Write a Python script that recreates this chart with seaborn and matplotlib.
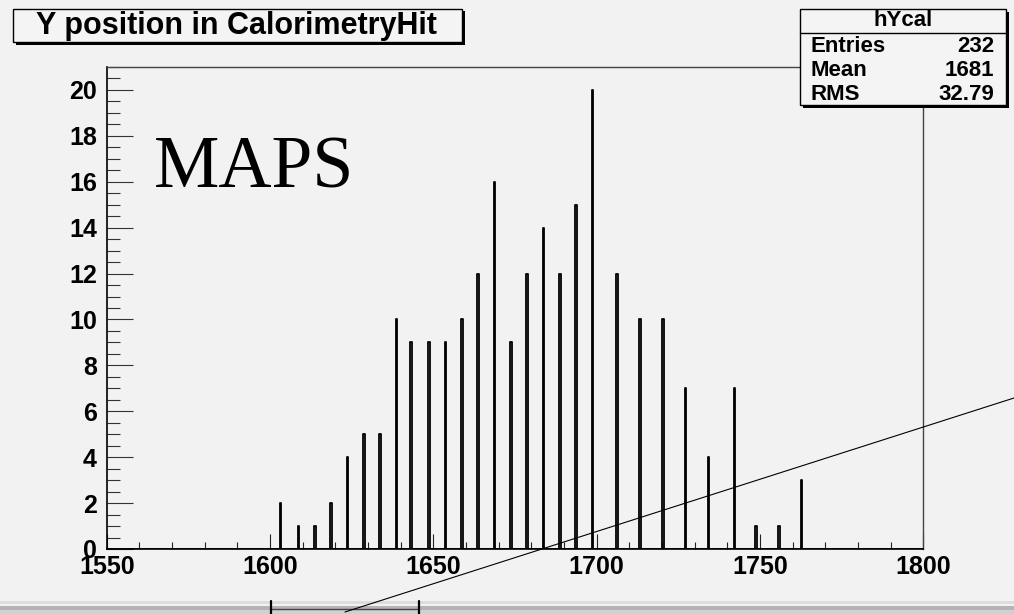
import numpy as np
import pandas as pd
import matplotlib
matplotlib.use("Agg")
import matplotlib.pyplot as plt
import seaborn as sns
from matplotlib.patches import Rectangle
from matplotlib.lines import Line2D
from matplotlib.ticker import MultipleLocator

# Y position of calorimetry hits (bin centres) and entries in each bin
y_position = [1603.4, 1608.6, 1613.8, 1618.7, 1623.7, 1628.7, 1633.5, 1638.5,
              1643.4, 1648.7, 1653.8, 1658.7, 1663.6, 1668.7, 1673.6, 1678.6,
              1683.7, 1688.9, 1693.9, 1698.8, 1706.4, 1713.1, 1720.2, 1727.1,
              1734.2, 1742.0, 1748.7, 1755.8, 1762.5]
entries = [2, 1, 1, 2, 4, 5, 5, 10, 9, 9, 9, 10, 12, 16, 9, 12, 14, 12, 15, 20,
           12, 10, 10, 7, 4, 7, 1, 1, 3]

title_text = "Y position in CalorimetryHit"
hist_name = "hYcal"
stat_names = ["Entries", "Mean", "RMS"]
stat_values = ["232", "1681", "32.79"]
label_text = "MAPS"

x_range = (1550, 1800)
y_max = 21
bin_width = 0.5

W, H = 1014, 614
BG = "#f2f2f2"

sns.set_theme(style="ticks")
plt.rcParams["font.family"] = ["Liberation Sans", "DejaVu Sans"]
plt.rcParams["text.color"] = "black"
plt.rcParams["xtick.labelcolor"] = "black"
plt.rcParams["ytick.labelcolor"] = "black"

fig = plt.figure(figsize=(W / 100, H / 100), dpi=100, facecolor=BG)


def fx(x):
    return x / W


def fy(y):
    return 1 - y / H


ax = fig.add_axes([fx(106.7), fy(549), fx(923.3) - fx(106.7), fy(67) - fy(549)])
ax.set_facecolor(BG)

hits = pd.DataFrame({"y": y_position, "n": entries})
sns.histplot(data=hits, x="y", weights="n", binwidth=bin_width, binrange=x_range,
             element="step", fill=False, color="black", linewidth=1.3, ax=ax)

ax.set_xlim(*x_range)
ax.set_ylim(0, y_max)
ax.set_xlabel("")
ax.set_ylabel("")

ax.xaxis.set_major_locator(MultipleLocator(50))
ax.xaxis.set_minor_locator(MultipleLocator(10))
ax.yaxis.set_major_locator(MultipleLocator(2))
ax.yaxis.set_minor_locator(MultipleLocator(0.5))

ax.tick_params(axis="x", which="major", direction="in", length=10.8, width=0.8,
               color="#222222", pad=4, labelsize=18, top=False, labelcolor="black")
ax.tick_params(axis="x", which="minor", direction="in", length=5, width=0.8,
               color="#222222", top=False)
ax.tick_params(axis="y", which="major", direction="in", length=18.7, width=0.8,
               color="#333333", pad=7, labelsize=18, right=False, labelcolor="black")
ax.tick_params(axis="y", which="minor", direction="in", length=9.4, width=0.8,
               color="#333333", right=False)
for lab in ax.get_xticklabels() + ax.get_yticklabels():
    lab.set_fontweight("bold")

for side in ("left", "bottom"):
    ax.spines[side].set_color("black")
    ax.spines[side].set_linewidth(1.2)
for side in ("top", "right"):
    ax.spines[side].set_visible(True)
    ax.spines[side].set_color("#444444")
    ax.spines[side].set_linewidth(1.0)


def pave(x0, y0, x1, y1):
    # box with a drop shadow, given in pixel coordinates from top-left
    fig.add_artist(Rectangle((fx(x0 + 2.5), fy(y1 + 2.5)), fx(x1 - x0), fy(y0) - fy(y1),
                             transform=fig.transFigure, facecolor="black",
                             edgecolor="none", zorder=4))
    fig.add_artist(Rectangle((fx(x0), fy(y1)), fx(x1 - x0), fy(y0) - fy(y1),
                             transform=fig.transFigure, facecolor="#f4f4f4",
                             edgecolor="black", linewidth=1.0, zorder=5))


# title pave
pave(13, 9, 462, 42)
fig.text(fx(236), fy(26), title_text, ha="center", va="center", fontsize=22,
         fontweight="bold", zorder=6)

# statistics pave
pave(800, 9, 1006, 105)
fig.add_artist(Line2D([fx(800), fx(1006)], [fy(33), fy(33)], transform=fig.transFigure,
                      color="black", linewidth=1.0, zorder=6))
fig.text(fx(903), fy(21), hist_name, ha="center", va="center", fontsize=16,
         fontweight="bold", zorder=6)
for i, (name, val) in enumerate(zip(stat_names, stat_values)):
    yy = 47 + 23.5 * i
    fig.text(fx(810), fy(yy), name, ha="left", va="center", fontsize=16,
             fontweight="bold", zorder=6)
    fig.text(fx(994), fy(yy), val, ha="right", va="center", fontsize=16,
             fontweight="bold", zorder=6)

# detector label
fig.text(fx(154), fy(188), label_text, ha="left", va="baseline", fontsize=53,
         family=["Liberation Serif", "DejaVu Serif"], color="black", zorder=6)

# strip along the bottom edge
fig.add_artist(Line2D([0, 1], [fy(602), fy(602)], transform=fig.transFigure,
                      color="#dcdcdc", linewidth=2.0, zorder=2))
fig.add_artist(Rectangle((0, fy(610)), 1, fy(606) - fy(610), transform=fig.transFigure,
                         facecolor="#b4b4b4", edgecolor="none", zorder=2))
fig.add_artist(Rectangle((0, 0), 1, fy(610), transform=fig.transFigure,
                         facecolor="#d0d0d0", edgecolor="none", zorder=2))
fig.add_artist(Line2D([fx(271), fx(419)], [fy(609), fy(609)], transform=fig.transFigure,
                      color="#444444", linewidth=1.0, zorder=3))
for xv in (271, 419):
    fig.add_artist(Line2D([fx(xv), fx(xv)], [fy(601), 0], transform=fig.transFigure,
                          color="black", linewidth=1.6, zorder=3))

# pointer line
fig.add_artist(Line2D([fx(345), fx(1014)], [fy(612), fy(398)], transform=fig.transFigure,
                      color="black", linewidth=0.8, zorder=7))

fig.savefig("out.png", dpi=100, facecolor=BG)
